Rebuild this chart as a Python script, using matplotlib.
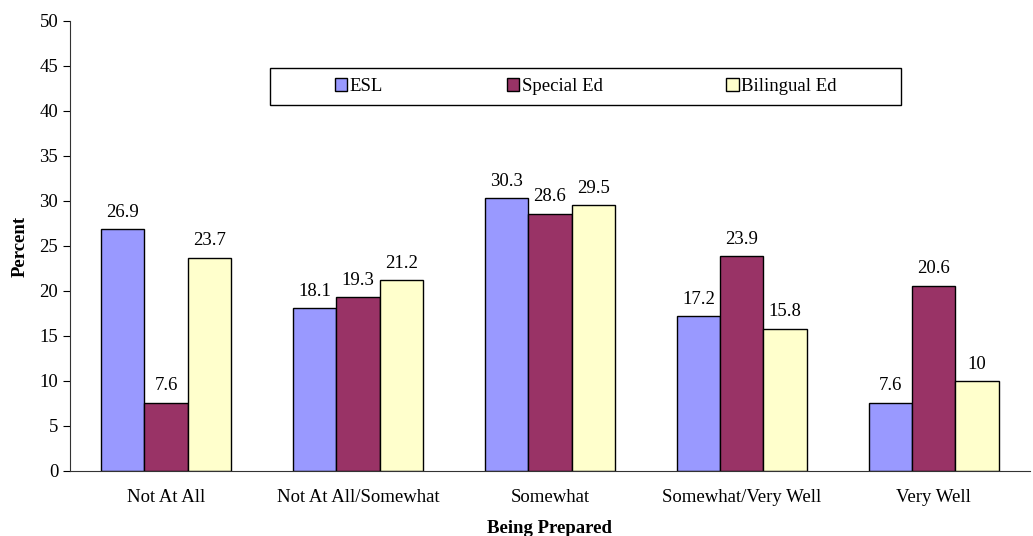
import numpy as np
import matplotlib.pyplot as plt
from matplotlib.patches import Rectangle

plt.rcParams['font.family'] = ['Liberation Serif', 'DejaVu Serif']

categories = ['Not At All', 'Not At All/Somewhat', 'Somewhat',
              'Somewhat/Very Well', 'Very Well']
esl = [26.9, 18.1, 30.3, 17.2, 7.6]
special_ed = [7.6, 19.3, 28.6, 23.9, 20.6]
bilingual_ed = [23.7, 21.2, 29.5, 15.8, 10]

series = [('ESL', esl, '#9999FF'),
          ('Special Ed', special_ed, '#993366'),
          ('Bilingual Ed', bilingual_ed, '#FFFFCC')]

fs = 13.5

fig = plt.figure(figsize=(10.33, 5.36), dpi=100)
ax = fig.add_axes([0.0678, 0.1213, 0.929, 0.8397])

x = np.arange(len(categories))
w = 0.226
for i, (name, vals, col) in enumerate(series):
    bars = ax.bar(x + (i - 1) * w, vals, w, color=col, edgecolor='black',
                  linewidth=1, label=name)
    for b, v in zip(bars, vals):
        ax.annotate(f'{v:g}', (b.get_x() + b.get_width() / 2, v),
                    xytext=(0, 6), textcoords='offset points',
                    ha='center', va='bottom', fontsize=fs)

ax.set_xlim(-0.5, 4.5)
ax.set_ylim(0, 50)
ax.set_yticks(range(0, 51, 5))
ax.set_xticks(x)
ax.set_xticklabels(categories)
ax.tick_params(axis='both', labelsize=fs, direction='out', length=5)
ax.tick_params(axis='x', length=0, pad=13)
ax.spines['top'].set_visible(False)
ax.spines['right'].set_visible(False)
ax.spines['left'].set_color('#333333')
ax.spines['bottom'].set_color('#333333')

ax.set_ylabel('Percent', fontsize=fs, fontweight='bold', labelpad=8)
ax.set_xlabel('Being Prepared', fontsize=fs, fontweight='bold', labelpad=10)

# legend frame drawn separately, entries centred inside
frame = Rectangle((0.208, 0.813), 0.658, 0.082, transform=ax.transAxes,
                  facecolor='white', edgecolor='black', linewidth=1,
                  zorder=4, clip_on=False)
ax.add_patch(frame)
leg = ax.legend(loc='center', bbox_to_anchor=(0.5375, 0.854), ncol=3,
                fontsize=fs, frameon=False, handlelength=0.65,
                handleheight=0.65, handletextpad=0.15, columnspacing=6.6,
                borderaxespad=0)
leg.set_zorder(5)

fig.savefig('out.png', dpi=100)
